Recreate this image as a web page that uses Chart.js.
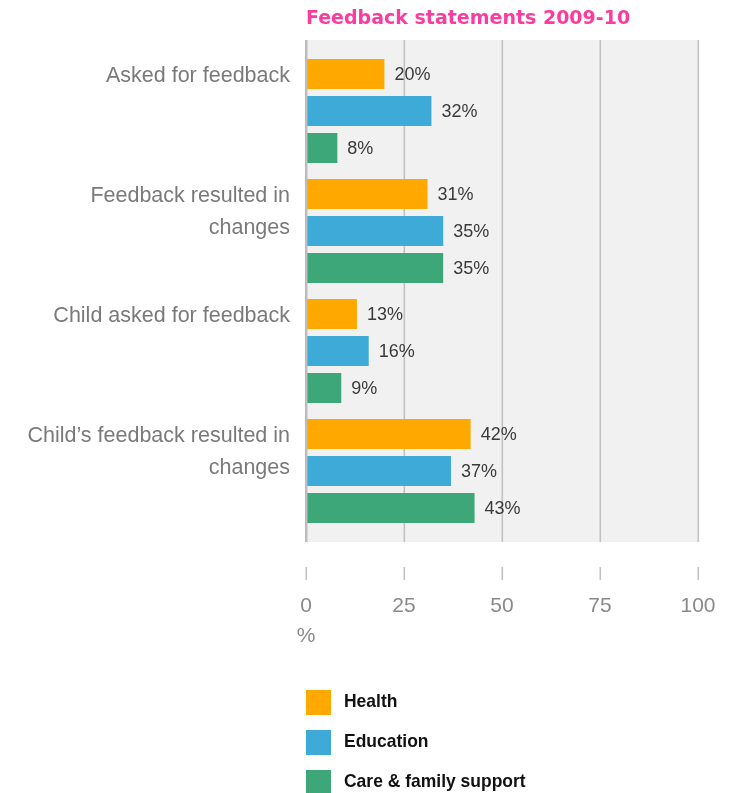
<!DOCTYPE html>
<html>
<head>
<meta charset="utf-8">
<script src="https://cdn.jsdelivr.net/npm/chart.js@4.4.1/dist/chart.umd.min.js"></script>
<style>
  html, body { margin: 0; padding: 0; background: #fff; }
  canvas { display: block; }
</style>
</head>
<body>
<canvas id="chart" width="740" height="793"></canvas>
<script>
// Chart content
const chartTitle = 'Feedback statements 2009-10';
const categories = [
  ['Asked for feedback', ''],
  ['Feedback resulted in', 'changes'],
  ['Child asked for feedback', ''],
  ['Child\u2019s feedback resulted in', 'changes']
];
const seriesNames = ['Health', 'Education', 'Care & family support'];
const health = [20, 31, 13, 42];
const education = [32, 35, 16, 37];
const careFamily = [8, 35, 9, 43];
const xTicks = [0, 25, 50, 75, 100];
const xUnit = '%';

const seriesColors = ['#fea800', '#3eaad7', '#3ea77a'];
const seriesValues = [health, education, careFamily];

// Grey panel, grid lines, detached tick marks, value labels, title and legend
const decorations = {
  id: 'decorations',
  beforeDatasetsDraw(chart) {
    const { ctx, chartArea: a, scales: { x } } = chart;
    const left = x.getPixelForValue(0);
    const right = x.getPixelForValue(100);
    const top = a.top - 11, bottom = a.bottom + 11;
    ctx.save();
    ctx.fillStyle = '#f1f1f1';
    ctx.fillRect(left, top, right - left + 1, bottom - top);
    ctx.strokeStyle = '#c2c2c2';
    ctx.lineWidth = 1.6;
    ctx.beginPath();
    xTicks.forEach(v => {
      const px = x.getPixelForValue(v) + 0.3;
      if (v !== 0) { ctx.moveTo(px, top); ctx.lineTo(px, bottom); }
      ctx.moveTo(px, a.bottom + 36);
      ctx.lineTo(px, a.bottom + 49);
    });
    ctx.stroke();
    ctx.restore();
  },
  afterDatasetsDraw(chart) {
    const { ctx, chartArea: a, scales: { x } } = chart;
    ctx.save();
    // zero line
    const zx = x.getPixelForValue(0);
    ctx.fillStyle = '#bdbdbd';
    ctx.fillRect(zx - 1, a.top - 11, 2.5, a.bottom - a.top + 22);
    // value labels
    ctx.font = '18px "Liberation Sans", Arial, sans-serif';
    ctx.fillStyle = '#3a3a3a';
    ctx.textAlign = 'left';
    ctx.textBaseline = 'middle';
    chart.data.datasets.forEach((ds, i) => {
      chart.getDatasetMeta(i).data.forEach((bar, j) => {
        ctx.fillText(ds.data[j] + '%', bar.x + 10, bar.y + 1.5);
      });
    });
    ctx.restore();
  },
  afterDraw(chart) {
    const { ctx, chartArea: a } = chart;
    ctx.save();
    // title
    ctx.font = 'bold 19px "DejaVu Sans", sans-serif';
    ctx.fillStyle = '#fa3c9e';
    ctx.textAlign = 'left';
    ctx.textBaseline = 'alphabetic';
    ctx.fillText(chartTitle, a.left, 24);
    // legend: colour square plus condensed bold label
    ctx.font = 'bold 19px "Liberation Sans", Arial, sans-serif';
    chart.data.datasets.forEach((ds, i) => {
      const y = 690 + i * 40;
      ctx.fillStyle = ds.backgroundColor;
      ctx.fillRect(a.left, y, 25, 25);
      ctx.fillStyle = '#111';
      ctx.save();
      ctx.translate(a.left + 38, y + 17);
      ctx.scale(0.92, 1);
      ctx.fillText(ds.label, 0, 0);
      ctx.restore();
    });
    ctx.restore();
  }
};

new Chart(document.getElementById('chart'), {
  type: 'bar',
  data: {
    labels: categories,
    datasets: seriesNames.map((name, i) => ({
      label: name,
      data: seriesValues[i],
      backgroundColor: seriesColors[i],
      borderWidth: 0,
      barPercentage: 0.81,
      categoryPercentage: 0.925
    }))
  },
  options: {
    indexAxis: 'y',
    responsive: false,
    animation: false,
    devicePixelRatio: 1,
    layout: { padding: { left: 0, right: 42, top: 51, bottom: 0 } },
    plugins: {
      legend: { display: false },
      title: { display: false },
      tooltip: { enabled: false }
    },
    scales: {
      x: {
        type: 'linear',
        min: 0,
        max: 100,
        afterBuildTicks(scale) { scale.ticks = xTicks.map(v => ({ value: v })); },
        afterFit(scale) {
          scale.height = 262;
          scale.paddingLeft = 0;
          scale.paddingRight = 0;
        },
        grid: { display: false, drawTicks: false },
        border: { display: false },
        ticks: {
          padding: 60,
          color: '#8a8a8a',
          font: { family: '"Liberation Sans", Arial, sans-serif', size: 21, lineHeight: 1.43 },
          maxRotation: 0,
          autoSkip: false,
          callback: v => (v === 0 ? ['0', xUnit] : String(v))
        }
      },
      y: {
        afterFit(scale) {
          scale.width = 306;
          scale.paddingTop = 0;
          scale.paddingBottom = 0;
        },
        grid: { display: false, drawTicks: false },
        border: { display: false },
        ticks: {
          padding: 16,
          labelOffset: -19,
          color: '#7a7a7a',
          font: { family: '"Liberation Sans", Arial, sans-serif', size: 21.5, lineHeight: 1.45 }
        }
      }
    }
  },
  plugins: [decorations]
});
</script>
</body>
</html>
